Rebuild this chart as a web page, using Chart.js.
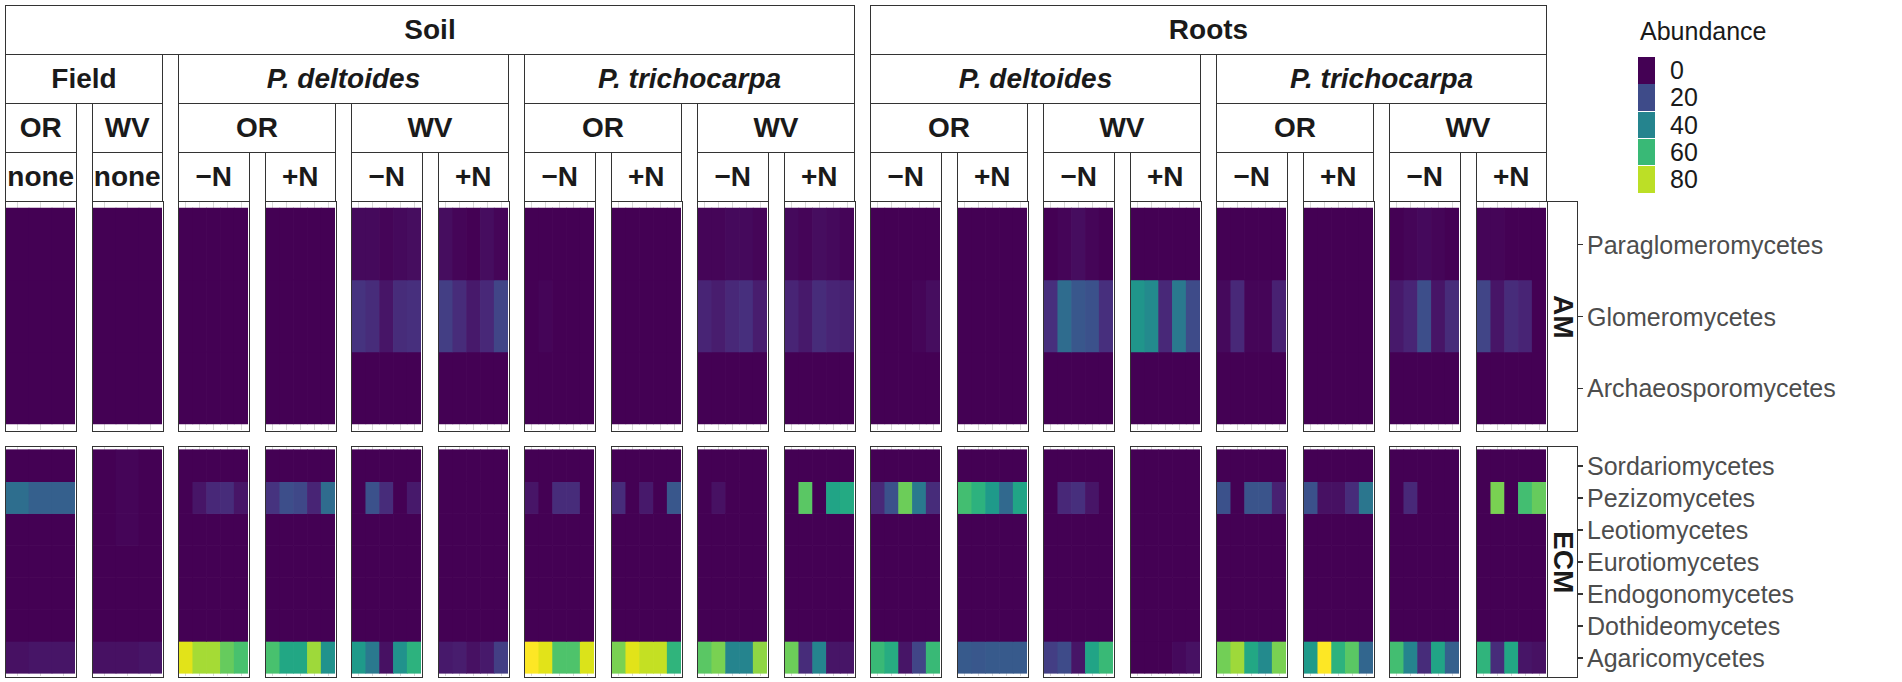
<!DOCTYPE html>
<html>
<head>
<meta charset="utf-8">
<script src="https://cdn.jsdelivr.net/npm/chart.js@4.4.1/dist/chart.umd.min.js"></script>
<style>
  body { margin: 0; background: #fff; font-family: "Liberation Sans", Arial, sans-serif; }
  #fig { position: relative; width: 1902px; height: 682px; overflow: hidden; }
  .strip { position: absolute; box-sizing: border-box; border: 1.5px solid #333; background: #fff;
           display: flex; align-items: center; justify-content: center;
           font-weight: bold; font-size: 28px; color: #1a1a1a; white-space: nowrap; }
  .strip.it { font-style: italic; }
  .strip.side { writing-mode: vertical-rl; }
  .panel { position: absolute; box-sizing: border-box; border: 1.5px solid #333; }
  .panel canvas { position: absolute; left: 0; top: 0; }
  .ylab { position: absolute; font-size: 25px; color: #4d4d4d; line-height: 28px; white-space: nowrap; }
  .ytick { position: absolute; height: 1.5px; width: 5px; background: #333; }
  .leg { position: absolute; font-size: 25px; color: #1a1a1a; line-height: 28px; }
  .key { position: absolute; width: 17px; }
</style>
</head>
<body>
<div id="fig"></div>
<script>
// --- data ---
const panelLabels = [
  ['Soil', 'Field', 'OR', 'none'],
  ['Soil', 'Field', 'WV', 'none'],
  ['Soil', 'P. deltoides', 'OR', '\u2212N'],
  ['Soil', 'P. deltoides', 'OR', '+N'],
  ['Soil', 'P. deltoides', 'WV', '\u2212N'],
  ['Soil', 'P. deltoides', 'WV', '+N'],
  ['Soil', 'P. trichocarpa', 'OR', '\u2212N'],
  ['Soil', 'P. trichocarpa', 'OR', '+N'],
  ['Soil', 'P. trichocarpa', 'WV', '\u2212N'],
  ['Soil', 'P. trichocarpa', 'WV', '+N'],
  ['Roots', 'P. deltoides', 'OR', '\u2212N'],
  ['Roots', 'P. deltoides', 'OR', '+N'],
  ['Roots', 'P. deltoides', 'WV', '\u2212N'],
  ['Roots', 'P. deltoides', 'WV', '+N'],
  ['Roots', 'P. trichocarpa', 'OR', '\u2212N'],
  ['Roots', 'P. trichocarpa', 'OR', '+N'],
  ['Roots', 'P. trichocarpa', 'WV', '\u2212N'],
  ['Roots', 'P. trichocarpa', 'WV', '+N']
];
const samplesPerPanel = [3, 3, 5, 5, 5, 5, 5, 5, 5, 5, 5, 5, 5, 5, 5, 5, 5, 5];

const amTaxa = ['Paraglomeromycetes', 'Glomeromycetes', 'Archaeosporomycetes'];
const ecmTaxa = ['Sordariomycetes', 'Pezizomycetes', 'Leotiomycetes', 'Eurotiomycetes',
                 'Endogonomycetes', 'Dothideomycetes', 'Agaricomycetes'];

// abundance per sample, panel by panel (Field 3+3, then 16 panels of 5)
const paraglomeromycetes = [
  0,0,0, 0,0,0,
  0,0,0,0,0, 0,0,0,0,0, 2,2,1,2,3, 3,1,0,3,1,
  0,0,0,0,0, 0,0,0,0,0, 1,1,2,2,1, 2,1,3,2,1,
  0,0,0,0,0, 0,0,0,0,0, 0,1,3,1,0, 0,0,0,0,0,
  0,0,0,0,0, 0,0,0,0,0, 0,1,2,1,0, 1,1,0,0,0
];
const glomeromycetes = [
  0,0,0, 0,0,0,
  0,0,0,0,0, 0,0,0,0,0, 13,11,5,11,12, 16,11,6,10,18,
  0,1,0,0,0, 0,0,0,0,0, 9,7,10,12,7, 9,6,11,9,8,
  0,0,0,1,3, 0,0,0,0,0, 12,31,24,22,12, 46,42,10,36,20,
  2,10,1,1,8, 0,0,0,0,0, 6,9,21,5,11, 18,5,11,9,0
];
const archaeosporomycetes = [
  0,0,0, 0,0,0,
  0,0,0,0,0, 0,0,0,0,0, 0,0,0,0,0, 0,0,0,0,0,
  0,0,0,0,0, 0,0,0,0,0, 0,0,0,0,0, 0,0,0,0,0,
  0,0,0,0,0, 0,0,0,0,0, 0,0,0,0,0, 0,0,0,0,0,
  0,0,0,0,0, 0,0,0,0,0, 0,0,0,0,0, 0,0,0,0,0
];
const sordariomycetes = [
  0,0,0, 0,1,0,
  0,0,0,0,0, 0,0,0,0,0, 0,0,0,0,0, 0,0,0,0,0,
  0,0,0,0,0, 0,0,0,0,0, 0,0,0,0,0, 0,0,0,0,0,
  0,0,0,0,0, 0,0,0,0,0, 0,0,0,0,0, 0,0,0,0,0,
  0,0,0,0,0, 0,0,0,0,0, 0,0,0,0,0, 0,0,0,0,0
];
const pezizomycetes = [
  32,27,27, 0,1,0,
  0,5,10,11,5, 13,21,19,9,31, 0,22,11,0,6, 0,0,0,0,0,
  5,0,11,11,0, 11,0,6,0,24, 0,4,0,0,0, 0,66,0,52,54,
  10,22,69,36,11, 62,57,48,30,52, 0,10,12,5,0, 0,0,0,0,0,
  22,0,23,23,8, 22,4,4,11,35, 0,10,0,0,0, 0,71,0,62,68
];
const leotiomycetes = [
  0,0,0, 0,1,0,
  0,0,0,0,0, 0,0,0,0,0, 0,0,0,0,0, 0,0,0,0,0,
  0,0,0,0,0, 0,0,0,0,0, 0,0,0,0,0, 0,0,0,0,0,
  0,0,0,0,0, 0,0,0,0,0, 0,0,0,0,0, 0,0,0,0,0,
  0,0,0,0,0, 0,0,0,0,0, 0,0,0,0,0, 0,0,0,0,0
];
const eurotiomycetes = [
  0,0,0, 0,0,0,
  0,0,0,0,0, 0,0,0,0,0, 0,0,0,0,0, 0,0,0,0,0,
  0,0,0,0,0, 0,0,0,0,0, 0,0,0,0,0, 0,0,0,0,0,
  0,0,0,0,0, 0,0,0,0,0, 0,0,0,0,0, 0,0,0,0,0,
  0,0,0,0,0, 0,0,0,0,0, 0,0,0,0,0, 0,0,0,0,0
];
const endogonomycetes = [
  0,0,0, 0,0,0,
  0,0,0,0,0, 0,0,0,0,0, 0,0,0,0,0, 0,0,0,0,0,
  0,0,0,0,0, 0,0,0,0,0, 0,0,0,0,0, 0,0,0,0,0,
  0,0,0,0,0, 0,0,0,0,0, 0,0,0,0,0, 0,0,0,0,0,
  0,0,0,0,0, 0,0,0,0,0, 0,0,0,0,0, 0,0,0,0,0
];
const dothideomycetes = [
  0,0,0, 0,0,0,
  0,0,0,0,0, 0,0,0,0,0, 0,0,0,0,0, 0,0,0,0,0,
  0,0,0,0,0, 0,0,0,0,0, 0,0,0,0,0, 0,0,0,0,0,
  0,0,0,0,0, 0,0,0,0,0, 0,0,0,0,0, 0,0,0,0,0,
  0,0,0,0,0, 0,0,0,0,0, 0,0,0,0,0, 0,0,0,0,0
];
const agaricomycetes = [
  4,5,5, 4,4,5,
  85,77,77,68,63, 63,53,53,76,45, 48,36,4,45,57, 6,7,4,6,16,
  89,85,64,64,84, 71,85,81,81,58, 66,71,40,40,74, 69,11,40,5,5,
  60,55,5,18,60, 25,24,25,25,25, 16,20,5,52,60, 0,0,0,2,4,
  70,76,53,42,71, 48,89,57,66,29, 62,40,11,52,27, 58,11,53,5,4
];

const legendBreaks = [0, 20, 40, 60, 80];
const valueMax = 89;

// --- colour scale (viridis) ---
const viridisStops = ['#440154','#471365','#482475','#463480','#414487','#3b528b','#355f8d',
  '#2f6c8e','#2a788e','#25848e','#21918c','#1e9c89','#22a884','#2fb47c','#44bf70','#5ec962',
  '#7ad151','#9bd93c','#bddf26','#dfe318','#fde725'];
function hex2rgb(h) { return [1, 3, 5].map(i => parseInt(h.substr(i, 2), 16)); }
function viridis(v) {
  let t = Math.max(0, Math.min(1, v / valueMax)) * (viridisStops.length - 1);
  const i = Math.min(Math.floor(t), viridisStops.length - 2), f = t - i;
  const a = hex2rgb(viridisStops[i]), b = hex2rgb(viridisStops[i + 1]);
  return 'rgb(' + a.map((c, j) => Math.round(c + (b[j] - c) * f)).join(',') + ')';
}

// --- layout ---
const fig = document.getElementById('fig');
const X0 = 5, STEP = 86.5, PW = 71.5;
const stripTops = [5, 54, 103, 152], STRIP_H = 50;
const EXP = 0.085;
const groups = [
  { name: 'AM', taxa: amTaxa, values: [paraglomeromycetes, glomeromycetes, archaeosporomycetes], top: 201, height: 231 },
  { name: 'ECM', taxa: ecmTaxa, values: [sordariomycetes, pezizomycetes, leotiomycetes, eurotiomycetes,
      endogonomycetes, dothideomycetes, agaricomycetes], top: 446, height: 232 }
];

function el(cls, text, css) {
  const d = document.createElement('div');
  d.className = cls;
  if (text !== undefined) d.textContent = text;
  Object.assign(d.style, css);
  fig.appendChild(d);
  return d;
}
const px = v => v + 'px';

// nested strips on top
for (let level = 0; level < 4; level++) {
  let k = 0;
  while (k < panelLabels.length) {
    const key = panelLabels[k].slice(0, level + 1).join('|');
    let j = k;
    while (j + 1 < panelLabels.length && panelLabels[j + 1].slice(0, level + 1).join('|') === key) j++;
    const left = X0 + STEP * k, right = X0 + STEP * j + PW;
    const label = panelLabels[k][level];
    el('strip' + (label.startsWith('P.') ? ' it' : ''), label, {
      left: px(left), top: px(stripTops[level]), width: px(right - left), height: px(STRIP_H)
    });
    k = j + 1;
  }
}

// heatmap panels
let start = 0;
const lastCharts = {};
panelLabels.forEach((lab, k) => {
  const n = samplesPerPanel[k];
  const ids = [];
  for (let s = 0; s < n; s++) ids.push(lab.join(' ') + ' #' + (s + 1));
  groups.forEach(g => {
    const box = el('panel', undefined, {
      left: px(Math.round(X0 + STEP * k)), top: px(g.top), width: px(72), height: px(g.height)
    });
    const cv = document.createElement('canvas');
    cv.width = 69; cv.height = g.height - 3;
    box.appendChild(cv);
    const nRows = g.taxa.length;
    const datasets = g.taxa.map((t, i) => {
      const row = nRows - 1 - i;
      const vals = g.values[i].slice(start, start + n);
      return {
        label: t,
        data: vals.map(() => [row, row + 1]),
        backgroundColor: vals.map(viridis),
        borderWidth: 0,
        barPercentage: 1,
        categoryPercentage: 1,
        grouped: false
      };
    });
    const chart = new Chart(cv, {
      type: 'bar',
      data: { labels: ids, datasets: datasets },
      options: {
        responsive: false,
        animation: false,
        events: [],
        layout: { padding: 0 },
        plugins: { legend: { display: false }, tooltip: { enabled: false } },
        scales: {
          x: {
            offset: true,
            ticks: { display: false },
            grid: { offset: false, drawTicks: false, color: '#d9d9d9', lineWidth: 1 },
            border: { display: false }
          },
          y: { display: false, min: -EXP, max: nRows + EXP }
        }
      }
    });
    lastCharts[g.name] = chart;
  });
  start += n;
});

// side strips and y-axis labels
const stripX = X0 + STEP * 17 + PW;
groups.forEach(g => {
  el('strip side', g.name, { left: px(stripX), top: px(g.top), width: px(31), height: px(g.height) });
  const chart = lastCharts[g.name];
  const nRows = g.taxa.length;
  g.taxa.forEach((t, i) => {
    const y = g.top + 1.5 + chart.scales.y.getPixelForValue(nRows - 1 - i + 0.5);
    el('ytick', undefined, { left: px(stripX + 31), top: px(y - 0.75) });
    el('ylab', t, { left: px(stripX + 40), top: px(y - 14) });
  });
});

// legend
el('leg', 'Abundance', { left: px(1640), top: px(17) });
legendBreaks.forEach((b, i) => {
  const top = 57 + i * 27.3;
  el('key', undefined, { left: px(1638), top: px(top), height: px(26.5), background: viridis(b) });
  el('leg', String(b), { left: px(1670), top: px(top + 13 - 14) });
});
</script>
</body>
</html>
